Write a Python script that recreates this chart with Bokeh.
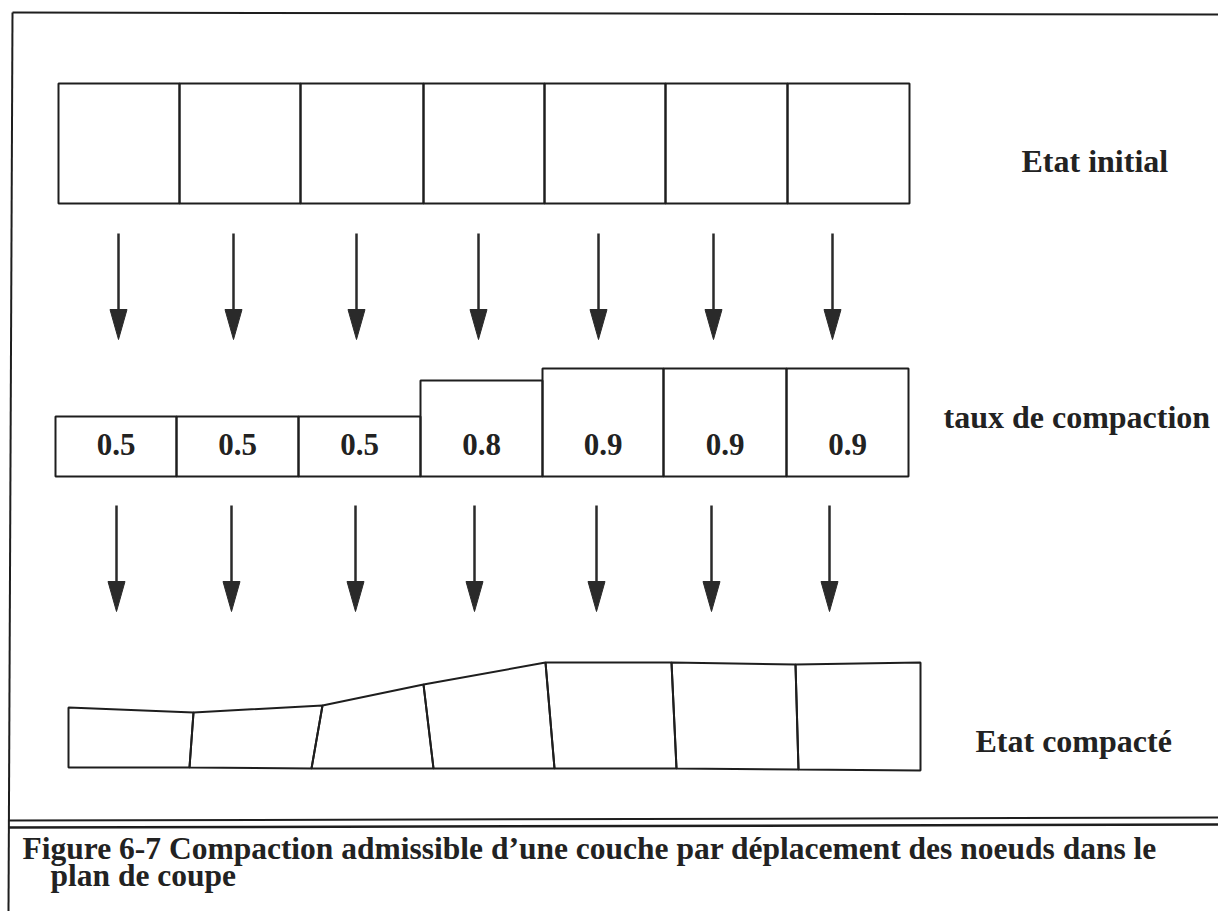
from bokeh.plotting import figure
from bokeh.models import Range1d, ColumnDataSource
from bokeh.core.properties import value
from bokeh.embed import file_html
from bokeh.resources import INLINE

# ---------------- data (diagram coordinates, image pixel space) ----------------
# Initial state row: node x positions, top / bottom
initial_edges = [58, 179, 300, 423, 544, 665, 787, 909]
initial_bottom = 203
unit_height = 120          # height of an uncompacted layer (rate 1.0)

# Compaction rates per cell
compaction = [0.5, 0.5, 0.5, 0.8, 0.9, 0.9, 0.9]
compaction_labels = ["0.5", "0.5", "0.5", "0.8", "0.9", "0.9", "0.9"]
mid_edges = [55, 176, 298, 420, 542, 663, 786, 908]
mid_bottom = 476
label_baseline = 444

# Compacted state: node tops and bottoms
top_x = [68, 193, 322, 423, 545, 671, 795, 920]
top_y = [707, 712, 705, 684, 662, 662, 664, 662]
bot_x = [68, 189, 311, 433, 554, 676, 798, 920]
bot_y = [767, 767, 768, 768, 768, 768, 769, 770]

# Arrows
arrow1_x = [118, 233, 356, 478, 598, 713, 832]
arrow1_y = [233, 309, 339]      # shaft top, head base, tip
arrow2_x = [116, 231, 355, 474, 596, 711, 829]
arrow2_y = [505, 581, 611]
head_half_width = 8.5

# Row labels
row_labels = ["Etat initial", "taux de compaction", "Etat compacté"]
row_label_x = [1021, 943, 975]
row_label_y = [160, 416, 740]

caption_lines = ["Figure 6-7 Compaction admissible d\u2019une couche par d\u00e9placement des noeuds dans le",
                 "plan de coupe"]
caption_x = [22, 50]
caption_y = [848, 875]

# ---------------- figure ----------------
INK = "#1e1e1e"
FONT = value("Liberation Serif")

p = figure(width=1218, height=911, x_range=Range1d(0, 1218), y_range=Range1d(911, 0),
           x_axis_type=None, y_axis_type=None, toolbar_location=None,
           output_backend="svg", min_border=0)
p.outline_line_color = None
p.grid.visible = False
p.background_fill_color = "white"
p.border_fill_color = "white"

# Frame: left border, top border, caption double rule
p.line(x=[12, 8], y=[12, 911], line_color=INK, line_width=2)
p.line(x=[12, 1218], y=[12, 14], line_color=INK, line_width=2)
p.line(x=[8, 1218], y=[820, 817], line_color=INK, line_width=2)
p.line(x=[8, 1218], y=[827, 824], line_color=INK, line_width=2.5)

# Initial row
p.quad(left=initial_edges[:-1], right=initial_edges[1:],
       top=[initial_bottom - unit_height] * 7, bottom=[initial_bottom] * 7,
       fill_color=None, line_color=INK, line_width=2)

# Compaction row
mid_src = ColumnDataSource(dict(
    left=mid_edges[:-1], right=mid_edges[1:],
    top=[mid_bottom - r * unit_height for r in compaction],
    bottom=[mid_bottom] * 7,
    cx=[(a + b) / 2 for a, b in zip(mid_edges[:-1], mid_edges[1:])],
    ly=[label_baseline] * 7,
    lab=compaction_labels))
p.quad(left="left", right="right", top="top", bottom="bottom", source=mid_src,
       fill_color=None, line_color=INK, line_width=2)
p.text(x="cx", y="ly", text="lab", source=mid_src, text_font=FONT,
       text_font_style="bold", text_font_size="31px", text_align="center",
       text_baseline="alphabetic", text_color="#222222")

# Compacted row
xs = [[top_x[i], top_x[i + 1], bot_x[i + 1], bot_x[i]] for i in range(7)]
ys = [[top_y[i], top_y[i + 1], bot_y[i + 1], bot_y[i]] for i in range(7)]
p.patches(xs=xs, ys=ys, fill_color=None, line_color=INK, line_width=2)

# Arrows
def draw_arrows(ax, ay):
    n = len(ax)
    p.segment(x0=ax, y0=[ay[0]] * n, x1=ax, y1=[ay[1] + 2] * n,
              line_color="#2a2a2a", line_width=2.5)
    hx = [[x - head_half_width, x + head_half_width, x] for x in ax]
    hy = [[ay[1], ay[1], ay[2]] for _ in ax]
    p.patches(xs=hx, ys=hy, fill_color="#2a2a2a", line_color="#2a2a2a", line_width=1)

draw_arrows(arrow1_x, arrow1_y)
draw_arrows(arrow2_x, arrow2_y)

# Row labels
p.text(x=row_label_x, y=row_label_y, text=row_labels, text_font=FONT,
       text_font_style="bold", text_font_size="32px", text_align="left",
       text_baseline="alphabetic", text_color="#222222")

# Caption
p.text(x=caption_x, y=caption_y, text=caption_lines, text_font=FONT,
       text_font_style="bold", text_font_size="31.5px", text_align="left",
       text_baseline="alphabetic", text_color="#222222")

open("out.html", "w").write(file_html(p, INLINE))
